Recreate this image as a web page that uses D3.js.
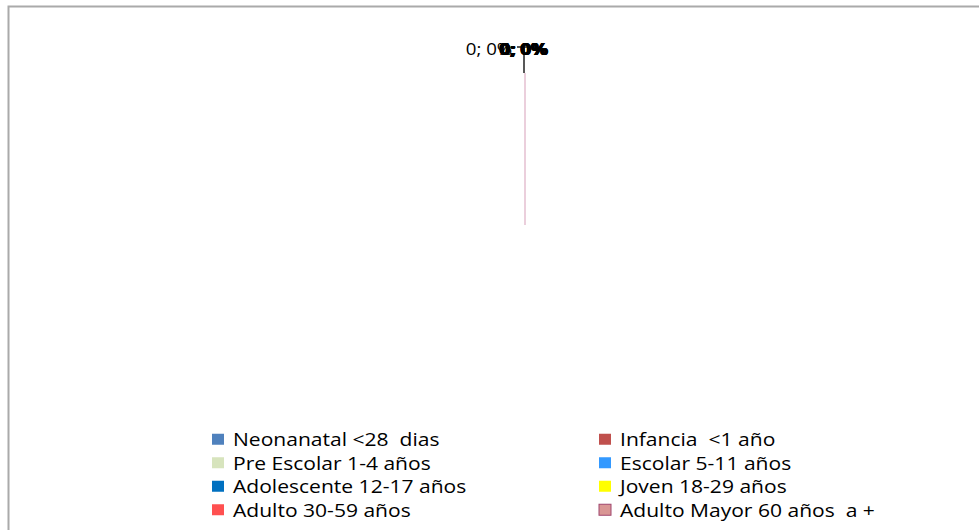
<!DOCTYPE html>
<html>
<head>
<meta charset="utf-8">
<script src="https://cdn.jsdelivr.net/npm/d3@7"></script>
<style>
  body { margin: 0; background: #fff; }
  svg { display: block; font-family: "Open Sans", "Liberation Sans", sans-serif; }
  text { white-space: pre; }
</style>
</head>
<body>
<svg id="chart" width="979" height="530"></svg>
<script>
// Age groups and their counts (all zero in the source chart)
const categories = [
    'Neonanatal <28  dias', 'Infancia  <1 año',
    'Pre Escolar 1-4 años', 'Escolar 5-11 años',
    'Adolescente 12-17 años', 'Joven 18-29 años',
    'Adulto 30-59 años', 'Adulto Mayor 60 años  a +'
];
const values = [0, 0, 0, 0, 0, 0, 0, 0];
const colors = ['#4F81BD', '#C0504D', '#D7E4BD', '#3399FF', '#0070C0', '#FFFF00', '#FF5050', '#D99694'];

const svg = d3.select('#chart');

// Chart area border (left and top edges visible)
svg.append('rect')
    .attr('x', 8.5).attr('y', 6.5)
    .attr('width', 1000).attr('height', 600)
    .attr('fill', 'none')
    .attr('stroke', '#aaaaaa')
    .attr('stroke-width', 2);

const cx = 525, cy = 225, radius = 152;
const total = d3.sum(values);
const data = categories.map((c, i) => ({ name: c, value: values[i], color: colors[i] }));

const pie = d3.pie().value(d => d.value).sort(null);
const arc = d3.arc().innerRadius(0).outerRadius(radius);
const arcs = pie(data);

const g = svg.append('g').attr('transform', `translate(${cx},${cy})`);

// Slices: zero-width, so only their edges show as a single radius line
g.selectAll('path.slice')
    .data(arcs)
    .join('path')
    .attr('class', 'slice')
    .attr('d', arc)
    .attr('fill', d => d.data.color)
    .attr('stroke', '#ebcfdc')
    .attr('stroke-width', 2);

// Leader line up to the labels
g.append('path')
    .attr('d', d3.line()([[-1, -radius], [-1, -178], [-8, -178], [6, -178]]))
    .attr('fill', 'none')
    .attr('stroke', '#222')
    .attr('stroke-width', 1.5);

// Data labels "value; percent" - Excel stacks them at the top
const pct = d => total ? Math.round(d.value / total * 100) : 0;
g.selectAll('text.lbl')
    .data(arcs)
    .join('text')
    .attr('class', 'lbl')
    .attr('transform', (d, i) => `translate(${i === 0 ? -36 : -2 + (i % 3) * 0.7},-170) scale(1.17,1)`)
    .attr('text-anchor', 'middle')
    .attr('font-size', 16)
    .attr('font-weight', (d, i) => i === 0 ? 'normal' : 'bold')
    .attr('fill', '#000')
    .text(d => `${d.value}; ${pct(d.data)}%`);

// Legend, two columns
const legend = svg.append('g');
const rowY = d3.scaleBand().domain(d3.range(4)).range([428, 522]);
const colX = d3.scaleOrdinal().domain([0, 1]).range([212, 599]);

const item = legend.selectAll('g.item')
    .data(data)
    .join('g')
    .attr('class', 'item')
    .attr('transform', (d, i) => `translate(${colX(i % 2)},${rowY(Math.floor(i / 2)) + rowY.bandwidth() / 2})`);

item.append('rect')
    .attr('x', 0).attr('y', -6)
    .attr('width', 12).attr('height', 11)
    .attr('fill', d => d.color)
    .attr('stroke', (d, i) => i === 7 ? '#a0466e' : 'none')
    .attr('stroke-width', 1);

item.append('text')
    .attr('transform', 'translate(21,0) scale(1.17,1)')
    .attr('dy', '0.36em')
    .attr('font-size', 18)
    .attr('fill', '#000')
    .text(d => d.name);
</script>
</body>
</html>
